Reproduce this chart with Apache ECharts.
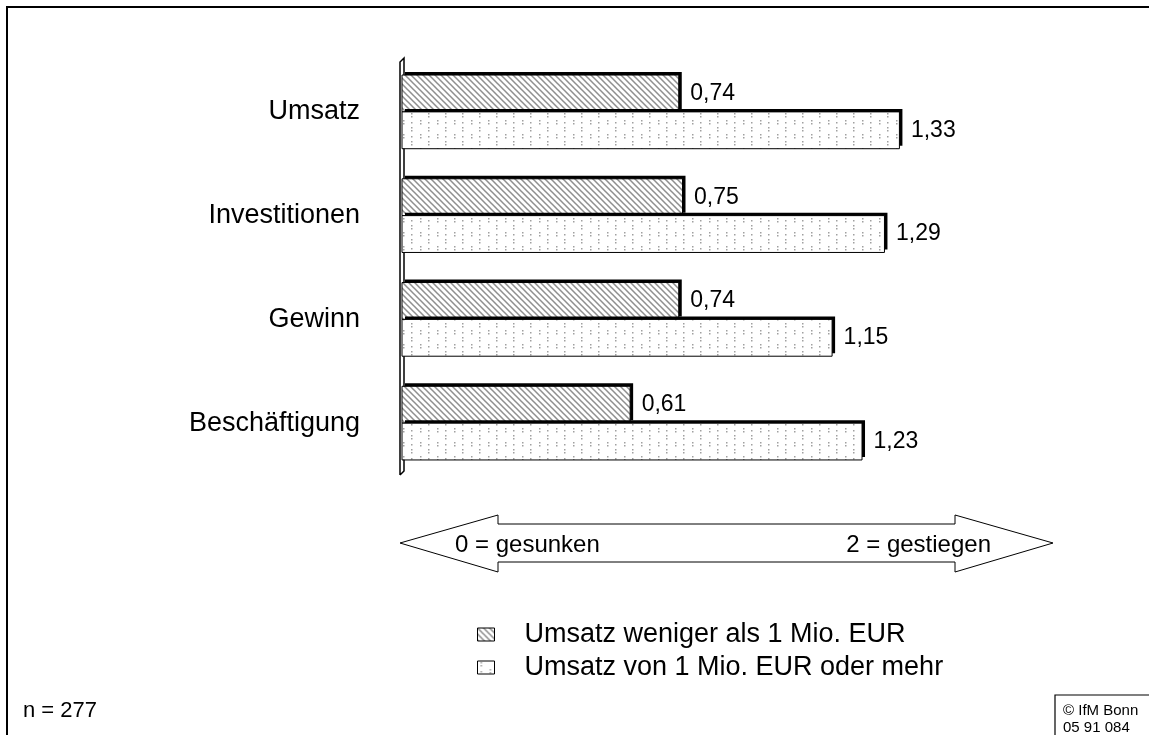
<!DOCTYPE html>
<html>
<head>
<meta charset="utf-8">
<script src="https://cdn.jsdelivr.net/npm/echarts@6/dist/echarts.min.js"></script>
<style>
  html, body { margin: 0; padding: 0; background: #fff; }
  #chart { width: 1149px; height: 735px; }
</style>
</head>
<body>
<div id="chart"></div>
<script>
// Survey results: mean assessment per area (0 = gesunken, 2 = gestiegen)
const categories = ['Umsatz', 'Investitionen', 'Gewinn', 'Beschäftigung'];
const seriesNames = ['Umsatz weniger als 1 Mio. EUR', 'Umsatz von 1 Mio. EUR oder mehr'];
const smallFirms = [0.74, 0.75, 0.74, 0.61];
const largeFirms = [1.33, 1.29, 1.15, 1.23];
const scaleTexts = ['0 = gesunken', '2 = gestiegen'];
const sampleText = 'n = 277';
const sourceLines = ['© IfM Bonn', '05 91 084'];

const FONT = '"Liberation Sans", Arial, sans-serif';

// Fill patterns: diagonal hatch and sparse dots
function hatchPattern() {
  const c = document.createElement('canvas');
  c.width = 6; c.height = 6;
  const g = c.getContext('2d');
  g.fillStyle = '#fff'; g.fillRect(0, 0, 6, 6);
  g.strokeStyle = '#8f8f8f'; g.lineWidth = 1.5;
  g.beginPath();
  g.moveTo(-1, -1); g.lineTo(7, 7);
  g.moveTo(-7, -1); g.lineTo(1, 7);
  g.moveTo(5, -1); g.lineTo(13, 7);
  g.stroke();
  return c;
}
function dotPattern() {
  const c = document.createElement('canvas');
  c.width = 17; c.height = 14;
  const g = c.getContext('2d');
  g.fillStyle = '#fff'; g.fillRect(0, 0, 17, 14);
  g.fillStyle = '#a0a0a0';
  [[3, 1], [3, 4], [12, 8], [3, 10], [12, 11]].forEach(p => g.fillRect(p[0], p[1], 1.5, 1.5));
  return c;
}

const grid = { left: 402, top: 60, width: 561, height: 415 };
const xMax = 1.5;
const categoryGap = 0.29;   // share of each band left empty

const fills = [
  { image: hatchPattern(), repeat: 'repeat' },
  { image: dotPattern(), repeat: 'repeat' }
];

// Bars with a solid offset shadow (top/right) and a thin outline
function barRenderer(slot) {
  return function (params, api) {
    const cat = api.value(0);
    const val = api.value(1);
    const base = api.coord([0, cat]);
    const tip = api.coord([val, cat]);
    const band = api.size([0, 1])[1];
    const bw = band * (1 - categoryGap) / 2;
    const shape = { x: base[0], y: base[1] - bw + slot * bw, width: tip[0] - base[0], height: bw };
    return {
      type: 'group',
      children: [
        { type: 'rect', shape: shape,
          style: { fill: fills[slot], shadowColor: '#000', shadowBlur: 0, shadowOffsetX: 3, shadowOffsetY: -3 } },
        { type: 'rect', shape: shape,
          style: { fill: 'none', stroke: '#000', lineWidth: 1 },
          textContent: { style: { text: val.toFixed(2).replace('.', ','), fill: '#000', font: '23px ' + FONT } },
          textConfig: { position: 'right', distance: 9 } }
      ]
    };
  };
}

const chart = echarts.init(document.getElementById('chart'), null, { renderer: 'canvas' });

const ax = grid.left - 2, axTop = grid.top + 2, axBot = grid.top + grid.height, d = 4;

chart.setOption({
  animation: false,
  backgroundColor: '#fff',
  grid: grid,
  xAxis: { type: 'value', min: 0, max: xMax, show: false },
  yAxis: {
    type: 'category',
    data: categories,
    inverse: true,
    axisLine: { show: false },
    axisTick: { show: false },
    axisLabel: { color: '#000', fontFamily: FONT, fontSize: 27, margin: 42 }
  },
  legend: {
    orient: 'vertical',
    left: 472,
    top: 616,
    icon: 'rect',
    itemWidth: 17,
    itemHeight: 13,
    itemGap: 6,
    textStyle: { color: '#000', fontFamily: FONT, fontSize: 27, lineHeight: 27, padding: [0, 0, 0, 25] },
    itemStyle: { borderColor: '#000', borderWidth: 1 },
    data: seriesNames
  },
  series: [
    {
      name: seriesNames[0], type: 'custom',
      data: smallFirms.map((v, i) => [i, v]),
      encode: { x: 1, y: 0 },
      itemStyle: { color: fills[0] },
      renderItem: barRenderer(0)
    },
    {
      name: seriesNames[1], type: 'custom',
      data: largeFirms.map((v, i) => [i, v]),
      encode: { x: 1, y: 0 },
      itemStyle: { color: fills[1] },
      renderItem: barRenderer(1)
    }
  ],
  graphic: [
    // outer frame
    { type: 'rect', shape: { x: 7, y: 7, width: 1160, height: 760 }, style: { fill: 'none', stroke: '#000', lineWidth: 2 }, silent: true },
    // thin 3D axis wall
    { type: 'polyline', shape: { points: [[ax, axBot], [ax, axTop], [ax + d, axTop - d], [ax + d, axBot - d], [ax, axBot]] },
      style: { fill: '#fff', stroke: '#000', lineWidth: 1.5 }, z: 1, silent: true },
    // double-headed scale arrow
    { type: 'polygon', shape: { points: [[400, 543], [498, 515], [498, 524], [955, 524], [955, 515], [1053, 543], [955, 572], [955, 562], [498, 562], [498, 572]] },
      style: { fill: '#fff', stroke: '#000', lineWidth: 1 }, silent: true },
    { type: 'text', left: 455, top: 533, style: { text: scaleTexts[0], fill: '#000', font: '24px ' + FONT }, z: 10 },
    { type: 'text', right: 1149 - 991, top: 533, style: { text: scaleTexts[1], fill: '#000', font: '24px ' + FONT }, z: 10 },
    // sample size
    { type: 'text', left: 23, top: 700, style: { text: sampleText, fill: '#000', font: '22px ' + FONT } },
    // source box
    { type: 'rect', shape: { x: 1055, y: 695, width: 120, height: 60 }, style: { fill: '#fff', stroke: '#000', lineWidth: 1.2 } },
    { type: 'text', left: 1063, top: 703, style: { text: sourceLines[0], fill: '#000', font: '15px ' + FONT } },
    { type: 'text', left: 1063, top: 720, style: { text: sourceLines[1], fill: '#000', font: '15px ' + FONT } }
  ]
});
</script>
</body>
</html>
